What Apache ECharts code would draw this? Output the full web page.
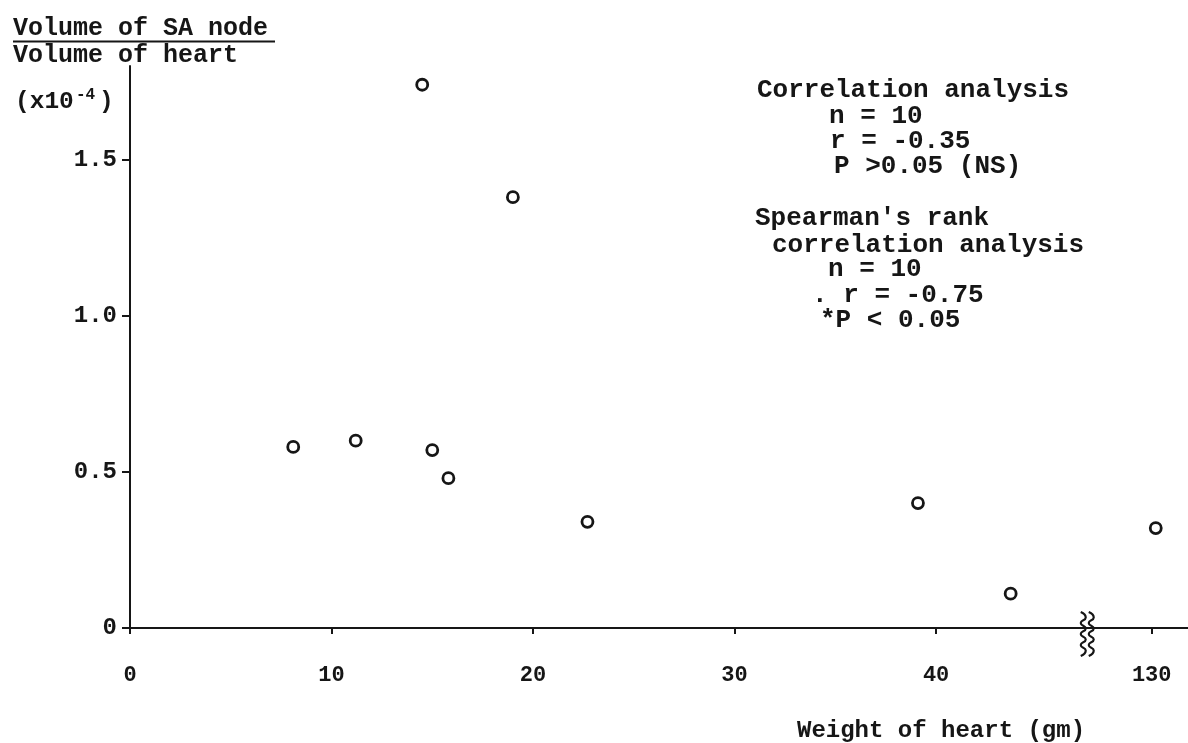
<!DOCTYPE html>
<html><head><meta charset="utf-8">
<script src="https://cdn.jsdelivr.net/npm/echarts@6/dist/echarts.min.js"></script>
<style>html,body{margin:0;padding:0;background:#fff}#c{width:1188px;height:743px}</style>
</head><body><div id="c"></div><script>
// Data
const heartWeight = [14.5, 19.0, 8.1, 11.2, 15.0, 15.8, 22.7, 39.1, 43.7, 130.2];
const nodeRatio   = [1.74, 1.38, 0.58, 0.60, 0.57, 0.48, 0.34, 0.40, 0.11, 0.32];
const xTickValues = [0, 10, 20, 30, 40, 130];
const yTickValues = [0, 0.5, 1.0, 1.5];
const axisBreak = { start: 46.3, end: 128, gap: 2.4 };
const titleTop = 'Volume of SA node';
const titleBottom = 'Volume of heart';
const xAxisName = 'Weight of heart (gm)';
const statsLines = [
  ['Correlation analysis', 757, 90],
  ['n = 10', 829, 116],
  ['r = -0.35', 830, 141],
  ['P >0.05 (NS)', 834, 166],
  ["Spearman's rank", 755, 218],
  ['correlation analysis', 772, 245],
  ['n = 10', 828, 269],
  ['. r = -0.75', 812, 295],
  ['*P < 0.05', 820, 320]
];

const FONT = '"Liberation Mono", "DejaVu Sans Mono", monospace';
const INK = '#161616';
const points = heartWeight.map((w, i) => [w, nodeRatio[i]]);

const graphics = [
  { type: 'text', x: 13, y: 29, style: { text: titleTop, font: 'bold 25px ' + FONT, fill: INK, verticalAlign: 'middle' } },
  { type: 'line', shape: { x1: 13, y1: 41.5, x2: 275, y2: 41.5 }, style: { stroke: INK, lineWidth: 2 } },
  { type: 'text', x: 13, y: 56, style: { text: titleBottom, font: 'bold 25px ' + FONT, fill: INK, verticalAlign: 'middle' } },
  { type: 'text', x: 15, y: 102, style: { text: '(x10', font: 'bold 24.5px ' + FONT, fill: INK, verticalAlign: 'middle' } },
  { type: 'text', x: 76, y: 95, style: { text: '-4', font: 'bold 16px ' + FONT, fill: INK, verticalAlign: 'middle' } },
  { type: 'text', x: 99, y: 102, style: { text: ')', font: 'bold 24.5px ' + FONT, fill: INK, verticalAlign: 'middle' } },
  { type: 'text', x: 797, y: 731, style: { text: xAxisName, font: 'bold 24px ' + FONT, fill: INK, verticalAlign: 'middle' } }
];
statsLines.forEach(([t, x, y]) => {
  graphics.push({ type: 'text', x: x, y: y, style: { text: t, font: 'bold 26px ' + FONT, fill: INK, verticalAlign: 'middle' } });
});

const chart = echarts.init(document.getElementById('c'), null, { renderer: 'canvas' });
chart.setOption({
  backgroundColor: '#ffffff',
  animation: false,
  grid: { left: 130, right: 0, top: 66, bottom: 115, containLabel: false },
  xAxis: {
    type: 'value', min: 0, max: 131.8,
    breaks: [axisBreak],
    breakArea: { show: false },
    splitLine: { show: false },
    axisLine: { show: true, onZero: false, lineStyle: { color: INK, width: 2 } },
    axisTick: { show: true, length: 6, customValues: xTickValues, lineStyle: { color: INK, width: 2 } },
    axisLabel: { show: true, customValues: xTickValues, margin: 36, color: INK, fontFamily: FONT, fontWeight: 'bold', fontSize: 22 }
  },
  yAxis: {
    type: 'value', min: 0, max: 1.8,
    splitLine: { show: false },
    axisLine: { show: true, lineStyle: { color: INK, width: 2 } },
    axisTick: { show: true, length: 8, customValues: yTickValues, lineStyle: { color: INK, width: 2 } },
    axisLabel: { show: true, customValues: yTickValues, margin: 13, color: INK, fontFamily: FONT, fontWeight: 'bold', fontSize: 24,
      formatter: v => (v === 0 ? '0' : v.toFixed(1)) }
  },
  series: [
    {
      type: 'scatter', data: points, symbol: 'circle', symbolSize: 11,
      itemStyle: { color: '#ffffff', borderColor: INK, borderWidth: 2.8, opacity: 1 },
      z: 5
    },
    {
      type: 'custom', coordinateSystem: 'cartesian2d', silent: true, z: 10, clip: false,
      data: [[axisBreak.start, axisBreak.end, 0]],
      encode: { x: [0, 1], y: 2 },
      renderItem: function (params, api) {
        const a = api.coord([api.value(0), api.value(2)]);
        const b = api.coord([api.value(1), api.value(2)]);
        const cx = (a[0] + b[0]) / 2;
        const cy = a[1] + 6;
        const make = (off) => {
          const pts = [];
          for (let i = 0; i <= 8; i++) {
            pts.push([cx + off + (i % 2 ? 2.5 : -2.5), cy - 22 + i * 5.5]);
          }
          return { type: 'polyline', shape: { points: pts, smooth: 0.6 }, style: { stroke: INK, lineWidth: 2.2, fill: null } };
        };
        return { type: 'group', children: [
          { type: 'line', shape: { x1: a[0] - 2, y1: a[1], x2: b[0] + 2, y2: b[1] }, style: { stroke: INK, lineWidth: 2 } },
          make(-4), make(4)
        ] };
      }
    }
  ],
  graphic: graphics
});
</script></body></html>
